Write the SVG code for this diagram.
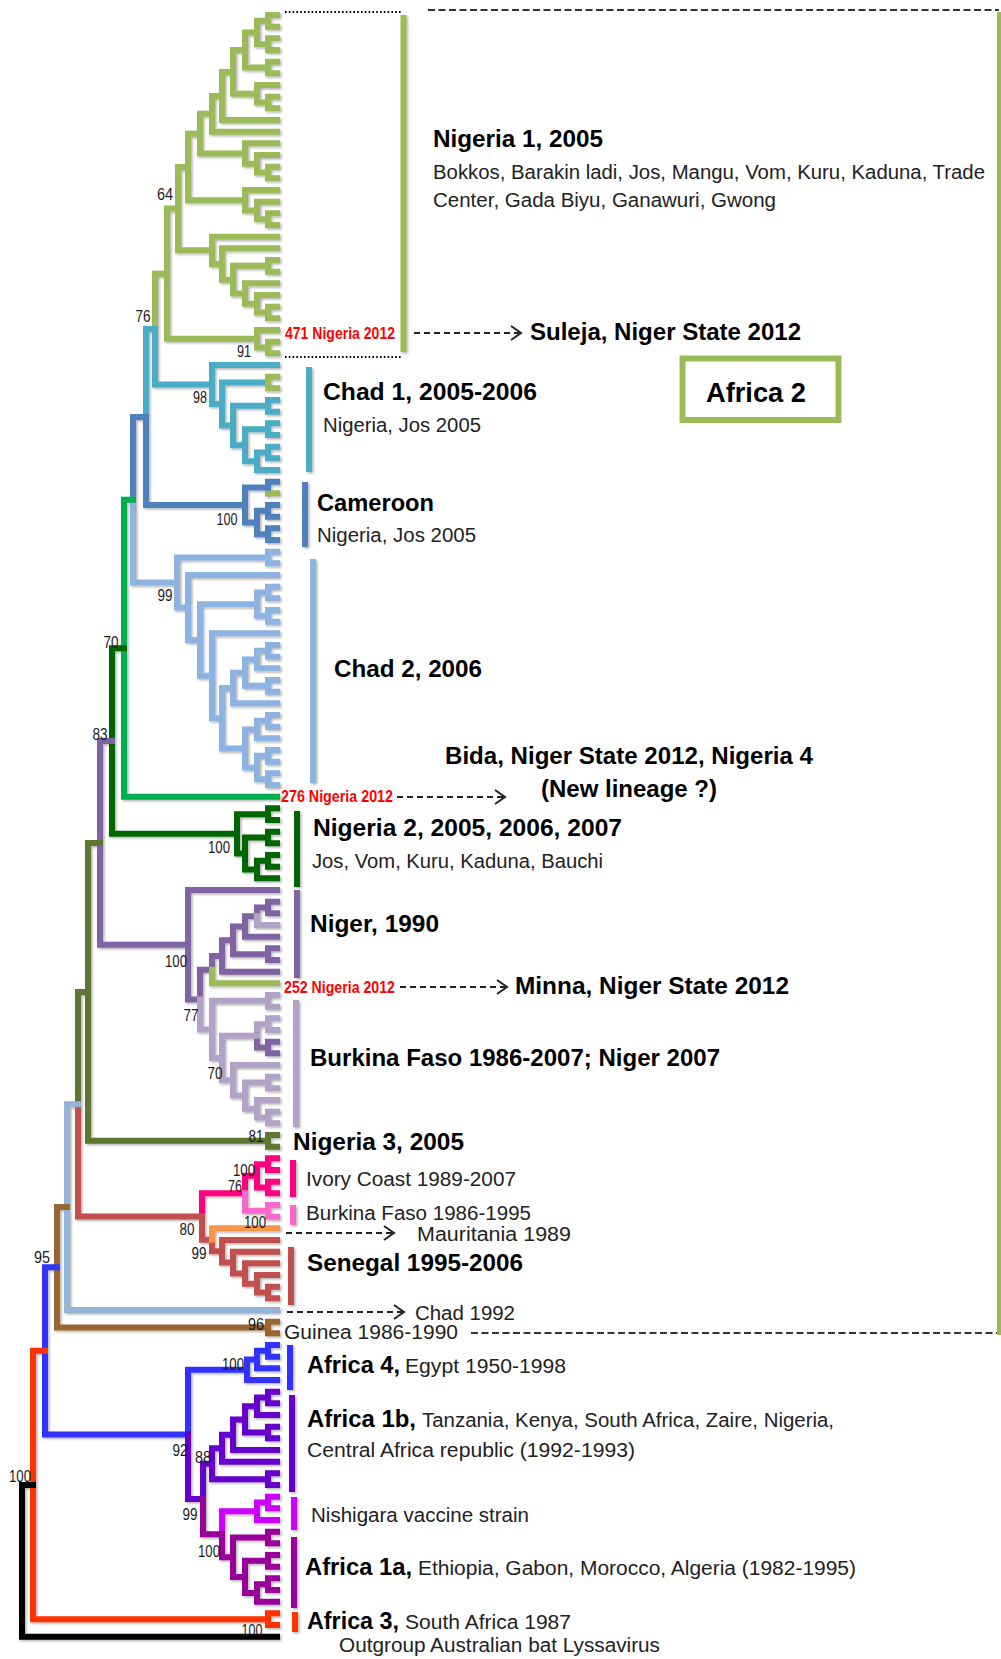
<svg xmlns="http://www.w3.org/2000/svg" width="1001" height="1659" viewBox="0 0 1001 1659">
<style>
.t path{fill:none;stroke-width:6;stroke-linecap:square;stroke-linejoin:miter}
.bar{stroke-width:6;fill:none}
.ng1{stroke:#9BBB59}.tl{stroke:#4BACC6}.db{stroke:#4F81BD}.lb{stroke:#8DB3E2}.gr{stroke:#00B050}
.dg{stroke:#006600}.pu{stroke:#8064A2}.lp{stroke:#B3A2C7}.ol{stroke:#5F7530}.pk{stroke:#FF0080}
.lpk{stroke:#FF66CC}.rd{stroke:#C0504D}.or{stroke:#F79646}.sb{stroke:#95B3D7}.br{stroke:#996633}
.bl{stroke:#3333FF}.vi{stroke:#6600CC}.mg{stroke:#CC00FF}.pl{stroke:#990099}.ro{stroke:#FF3300}.bk{stroke:#000}
text{font-family:"Liberation Sans",Arial,sans-serif}
.bs{font-size:16px;fill:#1a1a1a;text-anchor:middle}
.red{font-size:16px;font-weight:bold;fill:#FF0000}
.b{font-size:24px;font-weight:bold;fill:#000}
.r{font-size:20px;fill:#222}
.dash{stroke:#222;stroke-width:2;stroke-dasharray:6 4;fill:none}
.chev{stroke:#222;stroke-width:2;fill:none}
.dot{stroke:#000;stroke-width:2;stroke-dasharray:1.6 2.2;fill:none}
.long{stroke:#333;stroke-width:2;stroke-dasharray:7 3.5;fill:none}
</style>
<defs>
<filter id="sh" x="-5%" y="-5%" width="110%" height="110%">
<feDropShadow dx="1.5" dy="1.5" stdDeviation="1" flood-color="#000" flood-opacity="0.3"/>
</filter>
</defs>
<rect width="1001" height="1659" fill="#fff"/>

<g id="tree" class="t" filter="url(#sh)">
<g id="clade-nigeria1" class="ng1">
<path d="M277 15 H268 V26.7 H277"/>
<path d="M277 38.3 H268 V50 H277"/>
<path d="M268 20.85 H257 V44.15 H268"/>
<path d="M277 61.7 H268 V73.3 H277"/>
<path d="M257 32.5 H245 V67.5 H268"/>
<path d="M277 96.7 H268 V108.3 H277"/>
<path d="M277 85 H257 V102.5 H268"/>
<path d="M245 50 H233 V93.75 H257"/>
<path d="M233 71.9 H222 V120 H277"/>
<path d="M222 95.95 H212 V131.7 H277"/>
<path d="M277 166.7 H268 V178.3 H277"/>
<path d="M277 155 H257 V172.5 H268"/>
<path d="M277 143.3 H245 V163.75 H257"/>
<path d="M212 113.8 H200 V153.5 H245"/>
<path d="M277 213.3 H268 V225 H277"/>
<path d="M277 201.7 H257 V219.15 H268"/>
<path d="M277 190 H245 V210.4 H257"/>
<path d="M200 133.65 H188 V200.2 H245"/>
<path d="M277 306.7 H268 V318.3 H277"/>
<path d="M277 295 H257 V312.5 H268"/>
<path d="M277 283.3 H245 V303.75 H257"/>
<path d="M277 260 H268 V271.7 H277"/>
<path d="M268 265.85 H233 V293.5 H245"/>
<path d="M277 248.3 H222 V279.7 H233"/>
<path d="M277 236.7 H212 V264 H222"/>
<path d="M188 166.9 H178 V250.35 H212"/>
<path d="M277 341.7 H268 V353.3 H277"/>
<path d="M277 330 H257 V347.5 H268"/>
<path d="M178 208.6 H167 V338.75 H257"/>
<path d="M155 329.1 V273.7 H167"/>
</g>
<g id="clade-chad1" class="tl">
<path d="M277 365 H212 V404 H222"/>
<path d="M268 382.5 H222 V425.5 H233"/>
<path d="M268 405.85 H233 V445.2 H245"/>
<path d="M277 400 H268 V411.7 H277"/>
<path d="M277 423.3 H268 V435 H277"/>
<path d="M268 429.15 H245 V461.25 H257"/>
<path d="M277 446.7 H268 V458.3 H277"/>
<path d="M268 452.5 H257 V470 H277"/>
<path d="M155 329.1 V384.5 H212"/>
<path d="M146 417 V329.1 H155"/>
<path class="ng1" d="M277 376.7 H268 V388.3 H277"/>
</g>
<g id="clade-cameroon" class="db">
<path d="M277 481.7 H268 V493.3"/>
<path class="ng1" d="M268 493.3 H277"/>
<path d="M277 505 H268 V516.7 H277"/>
<path d="M277 528.3 H268 V540 H277"/>
<path d="M268 510.85 H257 V534.15 H268"/>
<path d="M268 487.5 H245 V522.5 H257"/>
<path d="M146 417 V505 H245"/>
<path d="M133 499.75 V417 H146"/>
</g>
<g id="clade-chad2" class="lb">
<path d="M277 551.7 H268 V563.3 H277"/>
<path d="M277 586.7 H268 V598.3 H277"/>
<path d="M277 610 H268 V621.7 H277"/>
<path d="M268 592.5 H257 V615.85 H268"/>
<path d="M277 645 H268 V656.7 H277"/>
<path d="M268 650.85 H257 V668.3 H277"/>
<path d="M277 680 H268 V691.7 H277"/>
<path d="M257 659.6 H245 V685.85 H268"/>
<path d="M245 672.7 H233 V703.3 H277"/>
<path d="M277 715 H268 V726.7 H277"/>
<path d="M268 720.85 H257 V738.3 H277"/>
<path d="M277 750 H268 V761.7 H277"/>
<path d="M277 773.3 H268 V785 H277"/>
<path d="M268 755.85 H257 V779.15 H268"/>
<path d="M257 729.6 H245 V767.5 H257"/>
<path d="M233 688 H222 V748.55 H245"/>
<path d="M277 633.3 H212 V718.3 H222"/>
<path d="M257 604.2 H200 V675.8 H212"/>
<path d="M277 575 H188 V640 H200"/>
<path d="M268 557.5 H177 V607.5 H188"/>
<path d="M133 499.75 V582.5 H177"/>
</g>
<g id="branch-276" class="gr">
<path d="M133 499.75 H124 V796.7 H277"/>
</g>
<g id="clade-nigeria2" class="dg">
<path d="M277 808.3 H268 V820 H277"/>
<path d="M277 831.7 H268 V843.3 H277"/>
<path d="M277 855 H268 V866.7 H277"/>
<path d="M268 860.85 H257 V878.3 H277"/>
<path d="M268 837.5 H245 V869.6 H257"/>
<path d="M268 814.15 H237 V853.55 H245"/>
<path d="M124 648.2 H112 V833.85 H237"/>
</g>
<g id="clade-niger" class="pu">
<path d="M112 741 H100 V944.75 H188"/>
<path d="M277 890 H188 V999.5 H200"/>
<path d="M200 999.5 V969.65 H212"/>
<path d="M222 956 H212 V969.65"/>
<path d="M233 940.3 H222 V971.7 H277"/>
<path d="M245 926.5 H233 V954.15 H268"/>
<path d="M277 948.3 H268 V960 H277"/>
<path d="M257 916.25 H245 V936.7 H277"/>
<path d="M277 901.7 H268 V913.3 H277"/>
<path d="M268 907.5 H257 V916.25"/>
<path class="lp" d="M257 916.25 V925 H277"/>
<path class="ng1" d="M212 969.65 V983.3 H277"/>
</g>
<g id="clade-burkina" class="lp">
<path d="M200 999.5 V1029.4 H212"/>
<path d="M268 1000.85 H212 V1058 H222"/>
<path d="M277 995 H268 V1006.7 H277"/>
<path d="M277 1018.3 H268 V1030 H277"/>
<path d="M268 1024.15 H257 V1035.8"/>
<path class="pu" d="M257 1035.8 V1047.5 H268"/>
<path class="pu" d="M277 1041.7 H268 V1053.3 H277"/>
<path d="M257 1035.8 H222 V1080.3 H233"/>
<path d="M277 1065 H233 V1095.6 H245"/>
<path d="M277 1076.7 H268 V1088.3 H277"/>
<path d="M268 1082.5 H245 V1108.75 H257"/>
<path d="M277 1100 H257 V1117.5 H268"/>
<path d="M277 1111.7 H268 V1123.3 H277"/>
</g>
<g id="clade-nigeria3" class="ol">
<path d="M100 842.9 H88 V1140.85 H268"/>
<path d="M277 1135 H268 V1146.7 H277"/>
<path d="M78 1104.2 V991.9 H88"/>
</g>
<g id="clade-ivorycoast" class="pk">
<path d="M277 1158.3 H268 V1170 H277"/>
<path d="M277 1181.7 H268 V1193.3 H277"/>
<path d="M268 1164.15 H257 V1187.5 H268"/>
<path d="M257 1175.8 H245 V1193.3"/>
<path d="M202 1216.55 V1193.3 H245"/>
<path class="lpk" d="M245 1193.3 V1210.85 H268"/>
<path class="lpk" d="M277 1205 H268 V1216.7 H277"/>
</g>
<g id="clade-senegal" class="rd">
<path d="M78 1104.2 V1216.55 H202"/>
<path d="M202 1216.55 V1239.8 H212"/>
<path d="M212 1239.8 V1251.3 H222"/>
<path d="M277 1240 H222 V1262.6 H233"/>
<path d="M277 1251.7 H233 V1273.5 H245"/>
<path d="M277 1263.3 H245 V1283.75 H257"/>
<path d="M277 1275 H257 V1292.5 H268"/>
<path d="M277 1286.7 H268 V1298.3 H277"/>
<path class="or" d="M212 1239.8 V1228.3 H277"/>
</g>
<g id="branch-chad1992" class="sb">
<path d="M78 1104.2 H67 V1310 H277"/>
</g>
<g id="clade-guinea" class="br">
<path d="M67 1207.1 H57 V1327.5 H268"/>
<path d="M277 1321.7 H268 V1333.3 H277"/>
</g>
<g id="clade-africa4" class="bl">
<path d="M57 1267.3 H45 V1434.4 H188"/>
<path d="M188 1434.4 V1369.8 H247"/>
<path d="M257 1359.6 H247 V1380 H277"/>
<path d="M268 1350.85 H257 V1368.3 H277"/>
<path d="M277 1345 H268 V1356.7 H277"/>
</g>
<g id="clade-africa1b" class="vi">
<path d="M188 1434.4 V1499 H203"/>
<path d="M203 1499 V1463.7 H212"/>
<path d="M222 1448.2 H212 V1479.15 H268"/>
<path d="M277 1473.3 H268 V1485 H277"/>
<path d="M233 1434.7 H222 V1461.7 H277"/>
<path d="M245 1419.4 H233 V1450 H277"/>
<path d="M257 1406.25 H245 V1432.5 H268"/>
<path d="M277 1426.7 H268 V1438.3 H277"/>
<path d="M268 1397.5 H257 V1415 H277"/>
<path d="M277 1391.7 H268 V1403.3 H277"/>
</g>
<g id="clade-nishigara" class="mg">
<path d="M222 1534.2 V1511.25 H257"/>
<path d="M268 1502.5 H257 V1520 H277"/>
<path d="M277 1496.7 H268 V1508.3 H277"/>
</g>
<g id="clade-africa1a" class="pl">
<path d="M203 1499 V1534.2 H222"/>
<path d="M222 1534.2 V1557.2 H233"/>
<path d="M268 1537.5 H233 V1576.9 H245"/>
<path d="M277 1531.7 H268 V1543.3 H277"/>
<path d="M268 1560.85 H245 V1592.9 H257"/>
<path d="M277 1555 H268 V1566.7 H277"/>
<path d="M268 1584.15 H257 V1601.7 H277"/>
<path d="M277 1578.3 H268 V1590 H277"/>
</g>
<g id="clade-africa3" class="ro">
<path d="M45 1350.85 H33 V1619.15 H268"/>
<path d="M277 1613.3 H268 V1625 H277"/>
</g>
<g id="outgroup" class="bk">
<path d="M33 1485 H22 V1636.7 H277"/>
</g>
</g>

<g id="clade-bars" filter="url(#sh)">
<line class="bar ng1" x1="403.5" y1="15" x2="403.5" y2="352"/>
<line class="bar tl" x1="309" y1="367" x2="309" y2="472"/>
<line class="bar db" x1="305" y1="482" x2="305" y2="547"/>
<line class="bar lb" x1="313" y1="559" x2="313" y2="783"/>
<line class="bar dg" x1="297" y1="811" x2="297" y2="887"/>
<line class="bar pu" x1="297" y1="890" x2="297" y2="978"/>
<line class="bar lp" x1="296" y1="1000" x2="296" y2="1127"/>
<line class="bar pk" x1="293" y1="1160" x2="293" y2="1197"/>
<line class="bar lpk" x1="293" y1="1205" x2="293" y2="1225"/>
<line class="bar rd" x1="291" y1="1247" x2="291" y2="1305"/>
<line class="bar bl" x1="290" y1="1345" x2="290" y2="1390"/>
<line class="bar vi" x1="292" y1="1395" x2="292" y2="1492"/>
<line class="bar mg" x1="294" y1="1497" x2="294" y2="1530"/>
<line class="bar pl" x1="294" y1="1537" x2="294" y2="1608"/>
<line class="bar ro" x1="295" y1="1612" x2="295" y2="1632"/>
</g>

<g id="connectors">
<line class="dot" x1="285" y1="12" x2="401" y2="12"/>
<line class="dot" x1="285" y1="357" x2="401" y2="357"/>
<line class="long" x1="428" y1="10" x2="999" y2="10"/>
<line class="long" x1="471" y1="1333" x2="999" y2="1333"/>
<line x1="999" y1="12" x2="999" y2="1335" stroke="#9BBB59" stroke-width="4"/>
<line class="dash" x1="414" y1="333" x2="519" y2="333"/>
<path class="chev" d="M511 326 L521 333 L511 340"/>
<line class="dash" x1="397" y1="797" x2="503" y2="797"/>
<path class="chev" d="M495 790 L505 797 L495 804"/>
<line class="dash" x1="400" y1="987" x2="505" y2="987"/>
<path class="chev" d="M497 980 L507 987 L497 994"/>
<line class="dash" x1="286" y1="1233" x2="392" y2="1233"/>
<path class="chev" d="M384 1226 L394 1233 L384 1240"/>
<line class="dash" x1="287" y1="1312" x2="402" y2="1312"/>
<path class="chev" d="M394 1305 L404 1312 L394 1319"/>
</g>

<g id="bootstrap">
<text class="bs" x="165" y="200" textLength="16" lengthAdjust="spacingAndGlyphs">64</text>
<text class="bs" x="143" y="322" textLength="15" lengthAdjust="spacingAndGlyphs">76</text>
<text class="bs" x="244" y="357" textLength="14" lengthAdjust="spacingAndGlyphs">91</text>
<text class="bs" x="200" y="403" textLength="14" lengthAdjust="spacingAndGlyphs">98</text>
<text class="bs" x="227" y="525" textLength="21" lengthAdjust="spacingAndGlyphs">100</text>
<text class="bs" x="165" y="601" textLength="15" lengthAdjust="spacingAndGlyphs">99</text>
<text class="bs" x="111" y="648" textLength="15" lengthAdjust="spacingAndGlyphs">70</text>
<text class="bs" x="100" y="740" textLength="15" lengthAdjust="spacingAndGlyphs">83</text>
<text class="bs" x="219" y="853" textLength="22" lengthAdjust="spacingAndGlyphs">100</text>
<text class="bs" x="176" y="967" textLength="22" lengthAdjust="spacingAndGlyphs">100</text>
<text class="bs" x="191" y="1021" textLength="15" lengthAdjust="spacingAndGlyphs">77</text>
<text class="bs" x="215" y="1079" textLength="15" lengthAdjust="spacingAndGlyphs">70</text>
<text class="bs" x="256" y="1142" textLength="15" lengthAdjust="spacingAndGlyphs">81</text>
<text class="bs" x="244" y="1176" textLength="22" lengthAdjust="spacingAndGlyphs">100</text>
<text class="bs" x="235" y="1192" textLength="14" lengthAdjust="spacingAndGlyphs">76</text>
<text class="bs" x="255" y="1228" textLength="22" lengthAdjust="spacingAndGlyphs">100</text>
<text class="bs" x="187" y="1235" textLength="15" lengthAdjust="spacingAndGlyphs">80</text>
<text class="bs" x="199" y="1259" textLength="15" lengthAdjust="spacingAndGlyphs">99</text>
<text class="bs" x="42" y="1263" textLength="16" lengthAdjust="spacingAndGlyphs">95</text>
<text class="bs" x="256" y="1330" textLength="16" lengthAdjust="spacingAndGlyphs">96</text>
<text class="bs" x="233" y="1370" textLength="22" lengthAdjust="spacingAndGlyphs">100</text>
<text class="bs" x="180" y="1456" textLength="15" lengthAdjust="spacingAndGlyphs">92</text>
<text class="bs" x="203" y="1463" textLength="16" lengthAdjust="spacingAndGlyphs">88</text>
<text class="bs" x="20" y="1482" textLength="22" lengthAdjust="spacingAndGlyphs">100</text>
<text class="bs" x="190" y="1520" textLength="15" lengthAdjust="spacingAndGlyphs">99</text>
<text class="bs" x="209" y="1557" textLength="22" lengthAdjust="spacingAndGlyphs">100</text>
<text class="bs" x="252" y="1636" textLength="21" lengthAdjust="spacingAndGlyphs">100</text>
</g>

<g id="label-nigeria1">
<text class="b" x="433" y="147" textLength="170" lengthAdjust="spacingAndGlyphs">Nigeria 1, 2005</text>
<text class="r" x="433" y="179" textLength="552" lengthAdjust="spacingAndGlyphs">Bokkos, Barakin ladi, Jos, Mangu, Vom, Kuru, Kaduna, Trade</text>
<text class="r" x="433" y="207" textLength="343" lengthAdjust="spacingAndGlyphs">Center, Gada Biyu, Ganawuri, Gwong</text>
</g>
<g id="label-471">
<text class="red" x="285" y="339" textLength="110" lengthAdjust="spacingAndGlyphs">471 Nigeria 2012</text>
<text class="b" x="530" y="340" textLength="271" lengthAdjust="spacingAndGlyphs">Suleja, Niger State 2012</text>
</g>
<g id="label-africa2">
<rect x="682.5" y="358.5" width="156" height="61.5" fill="none" stroke="#9BBB59" stroke-width="6"/>
<text class="b" x="706" y="402" style="font-size:27px" textLength="100" lengthAdjust="spacingAndGlyphs">Africa 2</text>
</g>
<g id="label-chad1">
<text class="b" x="323" y="400" textLength="214" lengthAdjust="spacingAndGlyphs">Chad 1, 2005-2006</text>
<text class="r" x="323" y="432" textLength="158" lengthAdjust="spacingAndGlyphs">Nigeria, Jos 2005</text>
</g>
<g id="label-cameroon">
<text class="b" x="317" y="511" textLength="117" lengthAdjust="spacingAndGlyphs">Cameroon</text>
<text class="r" x="317" y="542" textLength="159" lengthAdjust="spacingAndGlyphs">Nigeria, Jos 2005</text>
</g>
<g id="label-chad2">
<text class="b" x="334" y="677" textLength="148" lengthAdjust="spacingAndGlyphs">Chad 2, 2006</text>
</g>
<g id="label-276">
<text class="b" x="445" y="764" textLength="368" lengthAdjust="spacingAndGlyphs">Bida, Niger State 2012, Nigeria 4</text>
<text class="b" x="541" y="797" textLength="176" lengthAdjust="spacingAndGlyphs">(New lineage ?)</text>
<text class="red" x="281" y="802" textLength="112" lengthAdjust="spacingAndGlyphs">276 Nigeria 2012</text>
</g>
<g id="label-nigeria2">
<text class="b" x="313" y="836" textLength="309" lengthAdjust="spacingAndGlyphs">Nigeria 2, 2005, 2006, 2007</text>
<text class="r" x="312" y="868" textLength="291" lengthAdjust="spacingAndGlyphs">Jos, Vom, Kuru, Kaduna, Bauchi</text>
</g>
<g id="label-niger">
<text class="b" x="310" y="932" textLength="129" lengthAdjust="spacingAndGlyphs">Niger, 1990</text>
</g>
<g id="label-252">
<text class="red" x="284" y="993" textLength="111" lengthAdjust="spacingAndGlyphs">252 Nigeria 2012</text>
<text class="b" x="515" y="994" textLength="274" lengthAdjust="spacingAndGlyphs">Minna, Niger State 2012</text>
</g>
<g id="label-burkina">
<text class="b" x="310" y="1066" textLength="410" lengthAdjust="spacingAndGlyphs">Burkina Faso 1986-2007; Niger 2007</text>
</g>
<g id="label-nigeria3">
<text class="b" x="293" y="1150" textLength="171" lengthAdjust="spacingAndGlyphs">Nigeria 3, 2005</text>
</g>
<g id="label-ivorycoast">
<text class="r" x="306" y="1186" textLength="210" lengthAdjust="spacingAndGlyphs">Ivory Coast 1989-2007</text>
</g>
<g id="label-burkina2">
<text class="r" x="306" y="1220" textLength="225" lengthAdjust="spacingAndGlyphs">Burkina Faso 1986-1995</text>
</g>
<g id="label-mauritania">
<text class="r" x="417" y="1241" textLength="154" lengthAdjust="spacingAndGlyphs">Mauritania 1989</text>
</g>
<g id="label-senegal">
<text class="b" x="307" y="1271" textLength="216" lengthAdjust="spacingAndGlyphs">Senegal 1995-2006</text>
</g>
<g id="label-chad1992">
<text class="r" x="415" y="1320" textLength="100" lengthAdjust="spacingAndGlyphs">Chad 1992</text>
</g>
<g id="label-guinea">
<text class="r" x="284" y="1339" textLength="174" lengthAdjust="spacingAndGlyphs">Guinea 1986-1990</text>
</g>
<g id="label-africa4">
<text x="307" y="1373"><tspan class="b" textLength="93" lengthAdjust="spacingAndGlyphs">Africa 4,</tspan><tspan class="r" x="405" textLength="161" lengthAdjust="spacingAndGlyphs">Egypt 1950-1998</tspan></text>
</g>
<g id="label-africa1b">
<text x="307" y="1427"><tspan class="b" textLength="109" lengthAdjust="spacingAndGlyphs">Africa 1b,</tspan><tspan class="r" x="422" textLength="412" lengthAdjust="spacingAndGlyphs">Tanzania, Kenya, South Africa, Zaire, Nigeria,</tspan></text>
<text class="r" x="307" y="1457" textLength="328" lengthAdjust="spacingAndGlyphs">Central Africa republic (1992-1993)</text>
</g>
<g id="label-nishigara">
<text class="r" x="311" y="1522" textLength="218" lengthAdjust="spacingAndGlyphs">Nishigara vaccine strain</text>
</g>
<g id="label-africa1a">
<text x="305" y="1575"><tspan class="b" textLength="107" lengthAdjust="spacingAndGlyphs">Africa 1a,</tspan><tspan class="r" x="418" textLength="438" lengthAdjust="spacingAndGlyphs">Ethiopia, Gabon, Morocco, Algeria (1982-1995)</tspan></text>
</g>
<g id="label-africa3">
<text x="307" y="1629"><tspan class="b" textLength="92" lengthAdjust="spacingAndGlyphs">Africa 3,</tspan><tspan class="r" x="405" textLength="166" lengthAdjust="spacingAndGlyphs">South Africa 1987</tspan></text>
</g>
<g id="label-outgroup">
<text class="r" x="339" y="1652" textLength="321" lengthAdjust="spacingAndGlyphs">Outgroup Australian bat Lyssavirus</text>
</g>
</svg>
